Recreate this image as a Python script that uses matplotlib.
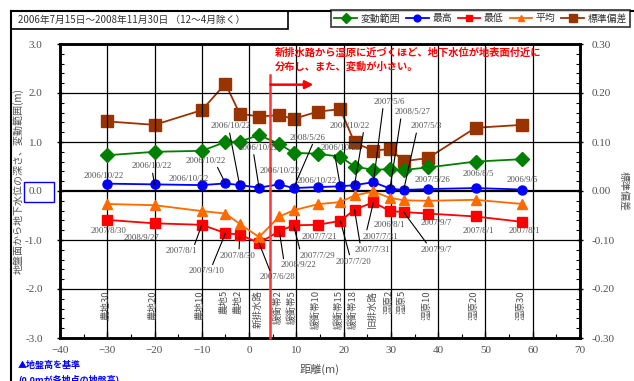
import matplotlib
matplotlib.use("Agg")
import matplotlib.pyplot as plt
from matplotlib.patches import Rectangle
from matplotlib.lines import Line2D

plt.rcParams['font.family'] = ['Noto Sans CJK JP', 'DejaVu Sans']

# 地点と距離
sites = ['農地30', '農地20', '農地10', '農地5', '農地2', '新排水路', '緩衝帯2', '緩衝帯5',
         '緩衝帯10', '緩衝帯15', '緩衝帯18', '旧排水路', '湿原2', '湿原5', '湿原10', '湿原20', '湿原30']
dist = [-30, -20, -10, -5, -2, 2.1, 6.4, 9.4, 14.5, 19.3, 22.3, 26.3, 29.8, 32.7, 37.8, 47.9, 57.8]

# 地下水位の統計値 (m)
hendo = [0.73, 0.80, 0.82, 1.00, 1.01, 1.14, 0.96, 0.78, 0.76, 0.70, 0.50, 0.43, 0.45, 0.43, 0.48, 0.60, 0.65]
saiko = [0.15, 0.135, 0.12, 0.155, 0.12, 0.07, 0.135, 0.06, 0.08, 0.095, 0.12, 0.18, 0.05, 0.02, 0.04, 0.06, 0.03]
saitei = [-0.59, -0.66, -0.69, -0.86, -0.89, -1.06, -0.82, -0.70, -0.69, -0.61, -0.38, -0.23, -0.41, -0.43, -0.46, -0.52, -0.63]
heikin = [-0.265, -0.29, -0.41, -0.46, -0.67, -0.94, -0.52, -0.395, -0.27, -0.225, -0.09, -0.01, -0.14, -0.19, -0.20, -0.18, -0.265]
hensa = [0.142, 0.135, 0.165, 0.219, 0.158, 0.152, 0.155, 0.147, 0.162, 0.167, 0.099, 0.082, 0.086, 0.061, 0.067, 0.129, 0.135]

# 最高・最低の観測日
max_dates = ['2006/10/22', '2006/10/22', '2006/10/22', '2006/10/22', '2006/10/22', '2006/10/22',
             '2006/10/22', '2008/5/26', '2006/10/22', '2006/10/22', '2006/10/22', '2007/5/6',
             '2008/5/27', '2007/5/3', '2007/5/26', '2006/8/5', '2006/9/5']
min_dates = ['2007/8/30', '2008/9/27', '2007/8/1', '2007/9/10', '2007/8/30', '2007/6/28',
             '2008/9/22', '2007/7/29', '2007/7/21', '2007/7/20', '2007/7/31', '2007/7/31',
             '2006/8/1', '2007/9/7', '2007/9/7', '2007/8/1', '2007/8/1']

# ラベル位置 (x, y, 引出線の始点 relpos_x, 引出線あり)
max_pos = [(-30.7, 0.31, 0.5, False), (-20.5, 0.50, 0.5, True), (-12.7, 0.245, 0.5, False),
           (-9.1, 0.62, 0.75, True), (-3.8, 1.32, 0.45, True), (2.1, 0.88, 0.36, True),
           (6.4, 0.40, 0.5, False), (12.3, 1.09, 0.68, True), (14.4, 0.20, 0.5, False),
           (19.3, 0.88, 0.35, True), (21.2, 1.33, 0.86, True), (29.7, 1.82, 0.3, True),
           (34.6, 1.61, 0.18, True), (37.5, 1.32, 0.2, True), (38.8, 0.23, 0.5, False),
           (48.4, 0.35, 0.5, False), (57.7, 0.23, 0.5, False)]
min_pos = [(-29.7, -0.81, 0.5, False), (-22.7, -0.95, 0.5, False), (-14.4, -1.23, 0.9, True),
           (-9.1, -1.64, 0.65, True), (-2.5, -1.32, 0.55, True), (5.9, -1.76, 0.33, True),
           (10.4, -1.52, 0.1, True), (14.4, -1.32, 0.03, True), (14.8, -0.94, 0.5, False),
           (22.0, -1.44, 0.42, True), (26.2, -1.20, 0.15, True), (27.8, -0.93, 0.1, True),
           (29.7, -0.69, 0.5, False), (39.6, -1.20, 0.25, True), (39.6, -0.65, 0.5, False),
           (48.4, -0.81, 0.5, False), (58.3, -0.81, 0.5, False)]

W, H = 634, 381
fig = plt.figure(figsize=(W / 100, H / 100), dpi=100)
ax = fig.add_axes([60 / W, 1 - 338 / H, 520 / W, 294 / H])
ax2 = ax.twinx()

gray = '#505050'
ax.set_xlim(-40, 70)
ax.set_ylim(-3, 3)
ax2.set_ylim(-0.3, 0.3)

# 格子線
for gx in range(-30, 70, 10):
    ax.axvline(gx, color='black', lw=0.9, zorder=1)
for gy in [-2, -1, 1, 2]:
    ax.axhline(gy, color='black', lw=0.9, zorder=1)
ax.axhline(0, color='black', lw=1.6, zorder=1)

l1, = ax.plot(dist, hendo, color='#008000', marker='D', ms=7, lw=1.3, label='変動範囲', zorder=4)
l2, = ax.plot(dist, saiko, color='#0000FF', marker='o', ms=6.5, lw=1.3, label='最高', zorder=4)
l3, = ax.plot(dist, saitei, color='#FF0000', marker='s', ms=6.5, lw=1.3, label='最低', zorder=4)
l4, = ax.plot(dist, heikin, color='#FF6A00', marker='^', ms=6.5, lw=1.3, label='平均', zorder=4)
l5, = ax2.plot(dist, hensa, color='#993300', marker='s', ms=8, lw=1.3, label='標準偏差', zorder=4)
ax.set_zorder(ax2.get_zorder() + 1)
ax.patch.set_visible(False)

# 観測日ラベル
def date_labels(dates, pos, ys, top):
    for d, (tx, ty, rx, line), px, py in zip(dates, pos, dist, ys):
        if line:
            ax.annotate(d, xy=(px, py), xytext=(tx, ty), ha='center', va='center',
                        fontsize=6.3, color=gray, family='Liberation Serif', zorder=6,
                        arrowprops=dict(arrowstyle='-', color='black', lw=0.8,
                                        relpos=(rx, 1.0 if top else 0.0),
                                        shrinkA=0, shrinkB=0))
        else:
            ax.text(tx, ty, d, ha='center', va='center', fontsize=6.3, color=gray,
                    family='Liberation Serif', zorder=6)

date_labels(max_dates, max_pos, saiko, False)
date_labels(min_dates, min_pos, saitei, True)

# 地点名
for s, x in zip(sites, dist):
    ax.text(x - 0.3, -2.02, s, rotation=90, ha='center', va='top', fontsize=6.8, color=gray, zorder=6)

# 新排水路からの矢印と説明
ax.plot([4.5, 4.5], [2.37, -3], color='#FF3333', lw=1.8, zorder=5, clip_on=False)
ax.annotate('', xy=(13.6, 2.17), xytext=(4.5, 2.17),
            arrowprops=dict(arrowstyle='-|>', color='#FF0000', lw=1.8, mutation_scale=12,
                            shrinkA=0, shrinkB=0), zorder=5)
ax.text(5.5, 2.93, '新排水路から湿原に近づくほど、地下水位が地表面付近に\n分布し、また、変動が小さい。',
        color='#FF0000', fontsize=7.4, fontweight='bold', va='top', ha='left',
        linespacing=1.45, zorder=6)

# 軸
ax.set_xticks(range(-40, 80, 10))
ax.set_xticks(range(-35, 70, 10), minor=True)
ax.set_yticks([3, 2, 1, 0, -1, -2, -3])
ax.set_yticks([v / 10 for v in range(-30, 31, 2)], minor=True)
ax.set_yticklabels(['3.0', '2.0', '1.0', '0.0', '-1.0', '-2.0', '-3.0'])
ax2.set_yticks([0.3, 0.2, 0.1, 0.0, -0.1, -0.2, -0.3])
ax2.set_yticks([v / 100 for v in range(-30, 31, 2)], minor=True)
ax2.set_yticklabels(['0.30', '0.20', '0.10', '0.00', '-0.10', '-0.20', '-0.30'])
for a in (ax, ax2):
    a.tick_params(which='major', length=5, width=1.0, direction='inout', labelsize=8,
                  labelcolor=gray)
    a.tick_params(which='minor', length=3, width=0.8, direction='in')
    for lab in a.get_xticklabels() + a.get_yticklabels():
        lab.set_family('Liberation Serif')
    for sp in a.spines.values():
        sp.set_linewidth(1.8)
ax.tick_params(axis='x', which='major', direction='in', length=4, pad=6)
ax.tick_params(axis='y', pad=10)
ax2.tick_params(axis='y', pad=6)

ax.set_xlabel('距離(m)', fontsize=8, color=gray, labelpad=6)
fig.text(18 / W, 1 - 181 / H, '地盤面から地下水位の深さ、変動範囲(m)', rotation=90,
         ha='center', va='center', fontsize=7.2, color=gray)
fig.text(624 / W, 1 - 191 / H, '標準偏差', rotation=270, ha='center', va='center',
         fontsize=7.2, color=gray)

# 0.0 の枠
fig.add_artist(Rectangle((24 / W, 1 - 202 / H), 30 / W, 20 / H, transform=fig.transFigure,
                         fill=False, edgecolor='#0000FF', lw=1.0))

# 外枠・タイトル枠
fig.add_artist(Line2D([11 / W, 1], [1 - 11 / H, 1 - 11 / H], color='black', lw=1.5))
fig.add_artist(Line2D([11 / W, 11 / W], [0, 1 - 11 / H], color='black', lw=1.5))
fig.add_artist(Rectangle((11 / W, 1 - 29 / H), 277 / W, 18 / H, transform=fig.transFigure,
                         fill=False, edgecolor='black', lw=1.2))
fig.text(18 / W, 1 - 20 / H, '2006年7月15日～2008年11月30日 （12～4月除く）',
         ha='left', va='center', fontsize=7, color='#303030')

leg = fig.legend(handles=[l1, l2, l3, l4, l5], loc='upper left', ncol=5,
                 bbox_to_anchor=(331 / W, 1 - 10 / H), fontsize=7.1, frameon=True,
                 fancybox=False, handlelength=2.3, columnspacing=0.6, handletextpad=0.35,
                 borderpad=0.35, borderaxespad=0, markerscale=0.75)
leg.get_frame().set_edgecolor('black')
leg.get_frame().set_linewidth(1.2)
for t in leg.get_texts():
    t.set_color('#303030')

fig.text(18 / W, 1 - 365 / H, '▲地盤高を基準', color='#0000FF', fontsize=6.5,
         fontweight='bold', ha='left', va='center', family=['Noto Sans CJK JP', 'DejaVu Sans'])
fig.text(18 / W, 1 - 379 / H, '(0.0mが各地点の地盤高)', color='#0000FF', fontsize=6.5,
         fontweight='bold', ha='left', va='center')

fig.savefig('out.png', dpi=100)
